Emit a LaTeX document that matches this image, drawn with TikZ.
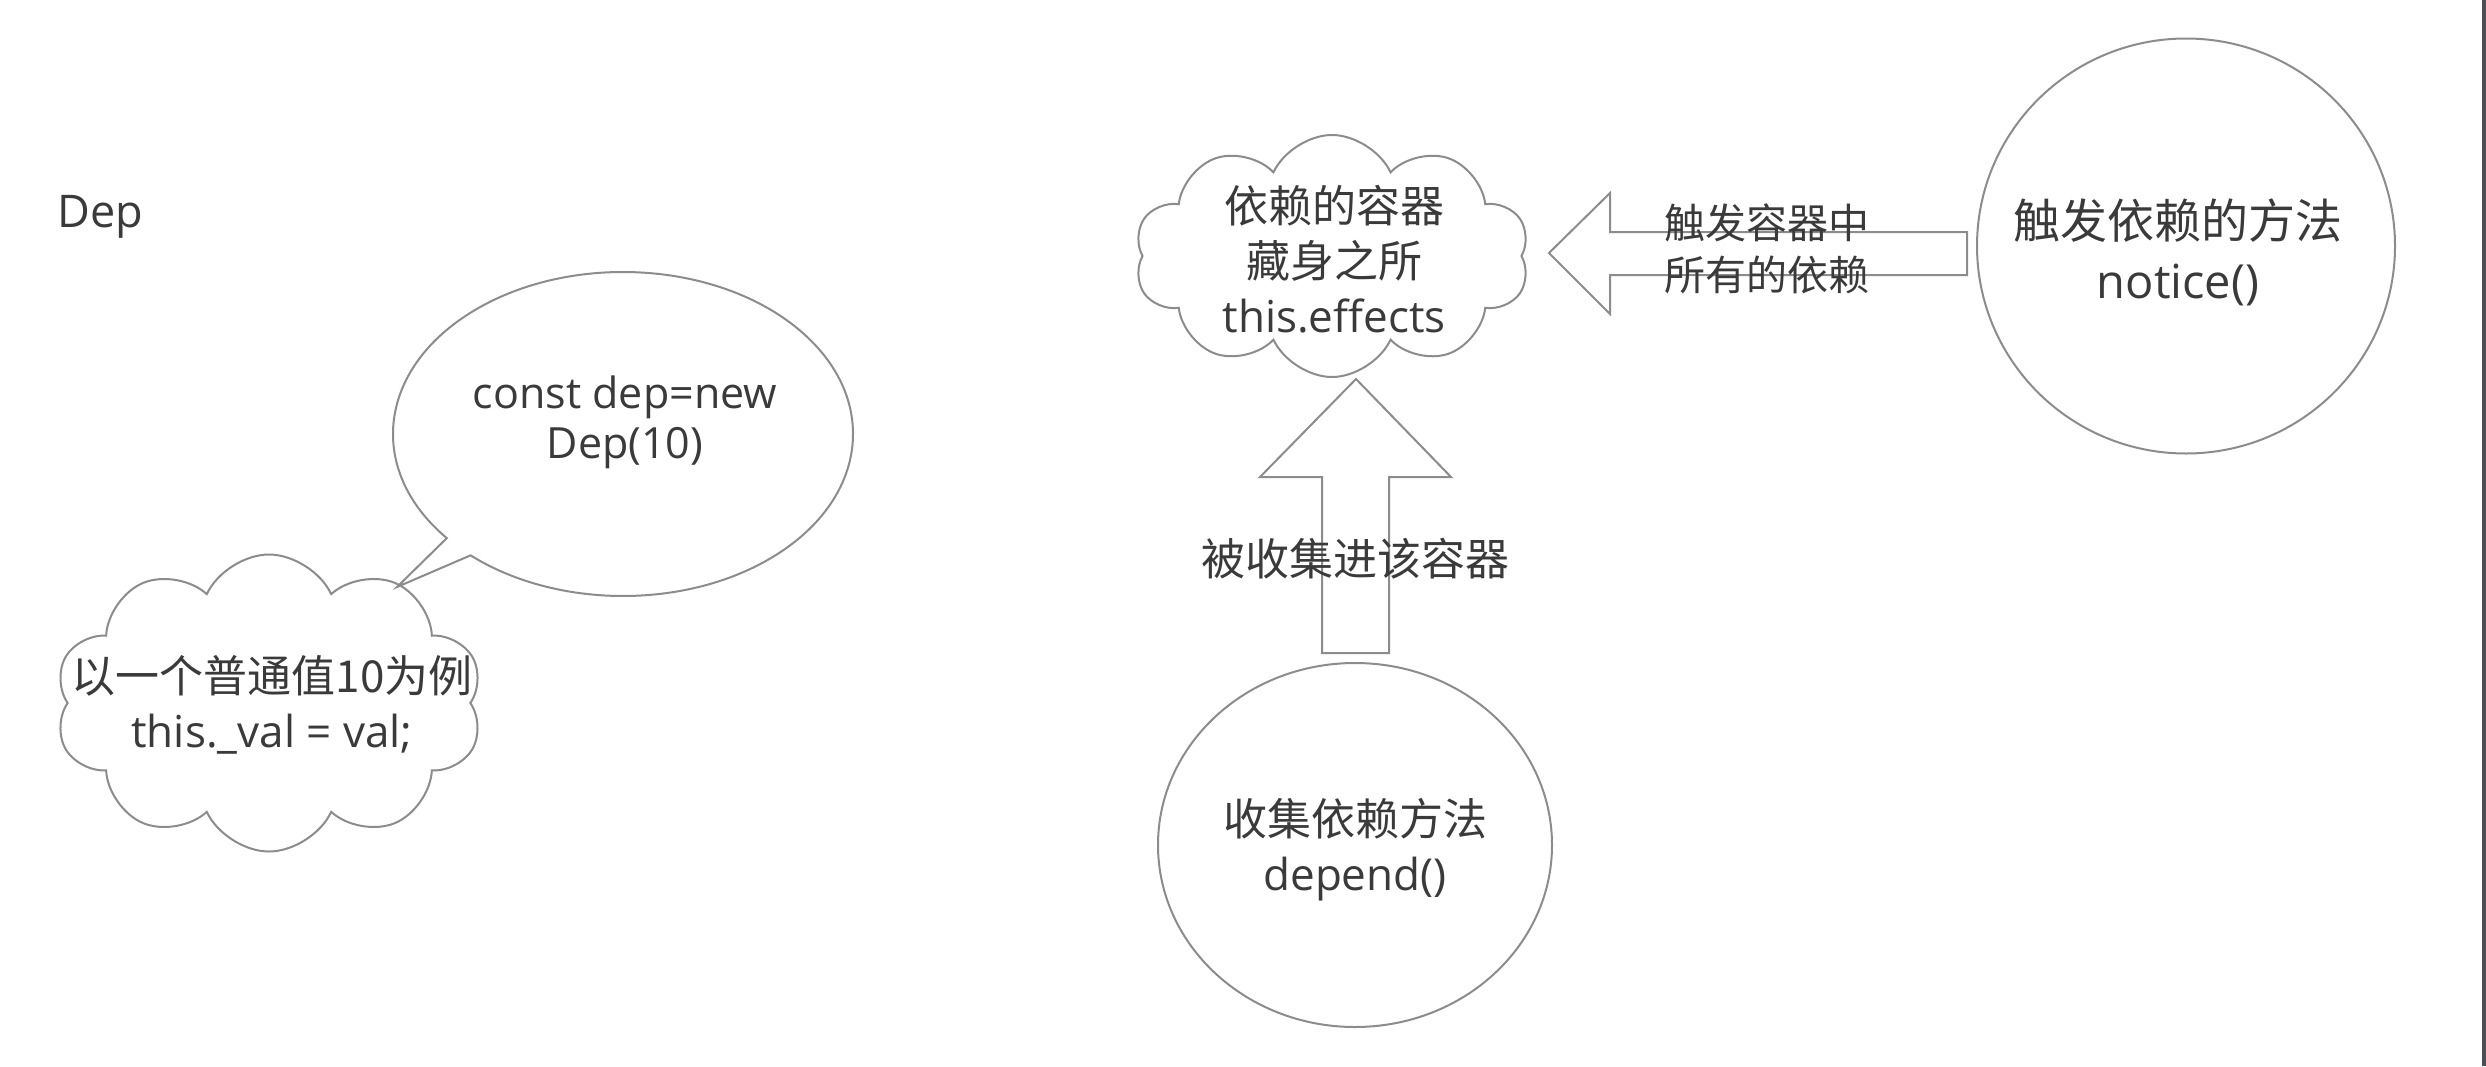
\documentclass[tikz,border=0pt]{standalone}
\usepackage{fontspec}
\setmainfont{Open Sans}
\newfontfamily\cjk{Noto Sans CJK SC}
\usetikzlibrary{shapes.symbols,shapes.geometric,calc}
\definecolor{strokegray}{RGB}{140,140,140}
\definecolor{txtgray}{RGB}{58,58,58}
\definecolor{barcol}{RGB}{75,78,87}
\tikzset{
  shapeline/.style={draw=strokegray, line width=2pt},
  cloudbox/.style={shapeline, cloud, cloud puffs=10, cloud puff arc=130, cloud ignores aspect, inner sep=0pt, aspect=1.6},
  circbox/.style={shapeline, ellipse, inner sep=0pt},
  bigtxt/.style={text=txtgray, align=center, font=\fontsize{44}{55}\selectfont, inner sep=0pt},
  smalltxt/.style={text=txtgray, align=center, font=\fontsize{41}{52}\selectfont, inner sep=0pt},
}
\begin{document}
\begin{tikzpicture}[x=1pt, y=-1pt]
\useasboundingbox (0,0) rectangle (2486,1066);
\fill[white] (0,0) rectangle (2486,1066);
\fill[barcol] (2482,0) rectangle (2486,1066);

% Dep title
\node[text=txtgray, font=\fontsize{45}{54}\selectfont, anchor=base west, inner sep=0pt] (title) at (57,227) {Dep};

% speech bubble
\coordinate (bubc) at (623,434);
\coordinate (bubtip) at (397,587);
\draw[shapeline, line join=miter] ($(bubc)+(140:230 and 162)$) arc[start angle=140, end angle=491.5, x radius=230, y radius=162] -- (bubtip) -- cycle;
\node[bigtxt, font=\fontsize{43}{50}\selectfont] (bubtxt) at (625,422) {const dep=new\\Dep(10)};

% left cloud
\node[cloudbox, minimum width=428pt, minimum height=297pt] (valcloud) at (269,703) {};
\node[bigtxt] (valtxt) at (272,705) {{\cjk 以一个普通值10为例}\\this.\_val = val;};

% container cloud
\node[cloudbox, minimum width=395pt, minimum height=242pt] (effcloud) at (1332,256) {};
\node[bigtxt] (efftxt) at (1334,259) {{\cjk 依赖的容器}\\{\cjk 藏身之所}\\this.effects};

% notice circle
\node[circbox, minimum width=418pt, minimum height=415pt] (notice) at (2186,246) {};
\node[bigtxt, font=\fontsize{47}{60}\selectfont] (noticetxt) at (2178,252) {{\cjk 触发依赖的方法}\\notice()};

% depend circle
\node[circbox, minimum width=394pt, minimum height=364pt] (depend) at (1355,845) {};
\node[bigtxt] (dependtxt) at (1355,850) {{\cjk 收集依赖方法}\\depend()};

% left block arrow
\draw[shapeline, line join=miter] (1549,253) -- (1610,193) -- (1610,232) -- (1967,232) -- (1967,275) -- (1610,275) -- (1610,314) -- cycle;
\node[smalltxt] (trigtxt) at (1767,249) {{\cjk 触发容器中}\\{\cjk 所有的依赖}};

% up block arrow
\draw[shapeline, line join=miter] (1356,379) -- (1451,477) -- (1389,477) -- (1389,653) -- (1322,653) -- (1322,477) -- (1260,477) -- cycle;
\node[bigtxt] (colltxt) at (1355,559) {{\cjk 被收集进该容器}};
\end{tikzpicture}
\end{document}
